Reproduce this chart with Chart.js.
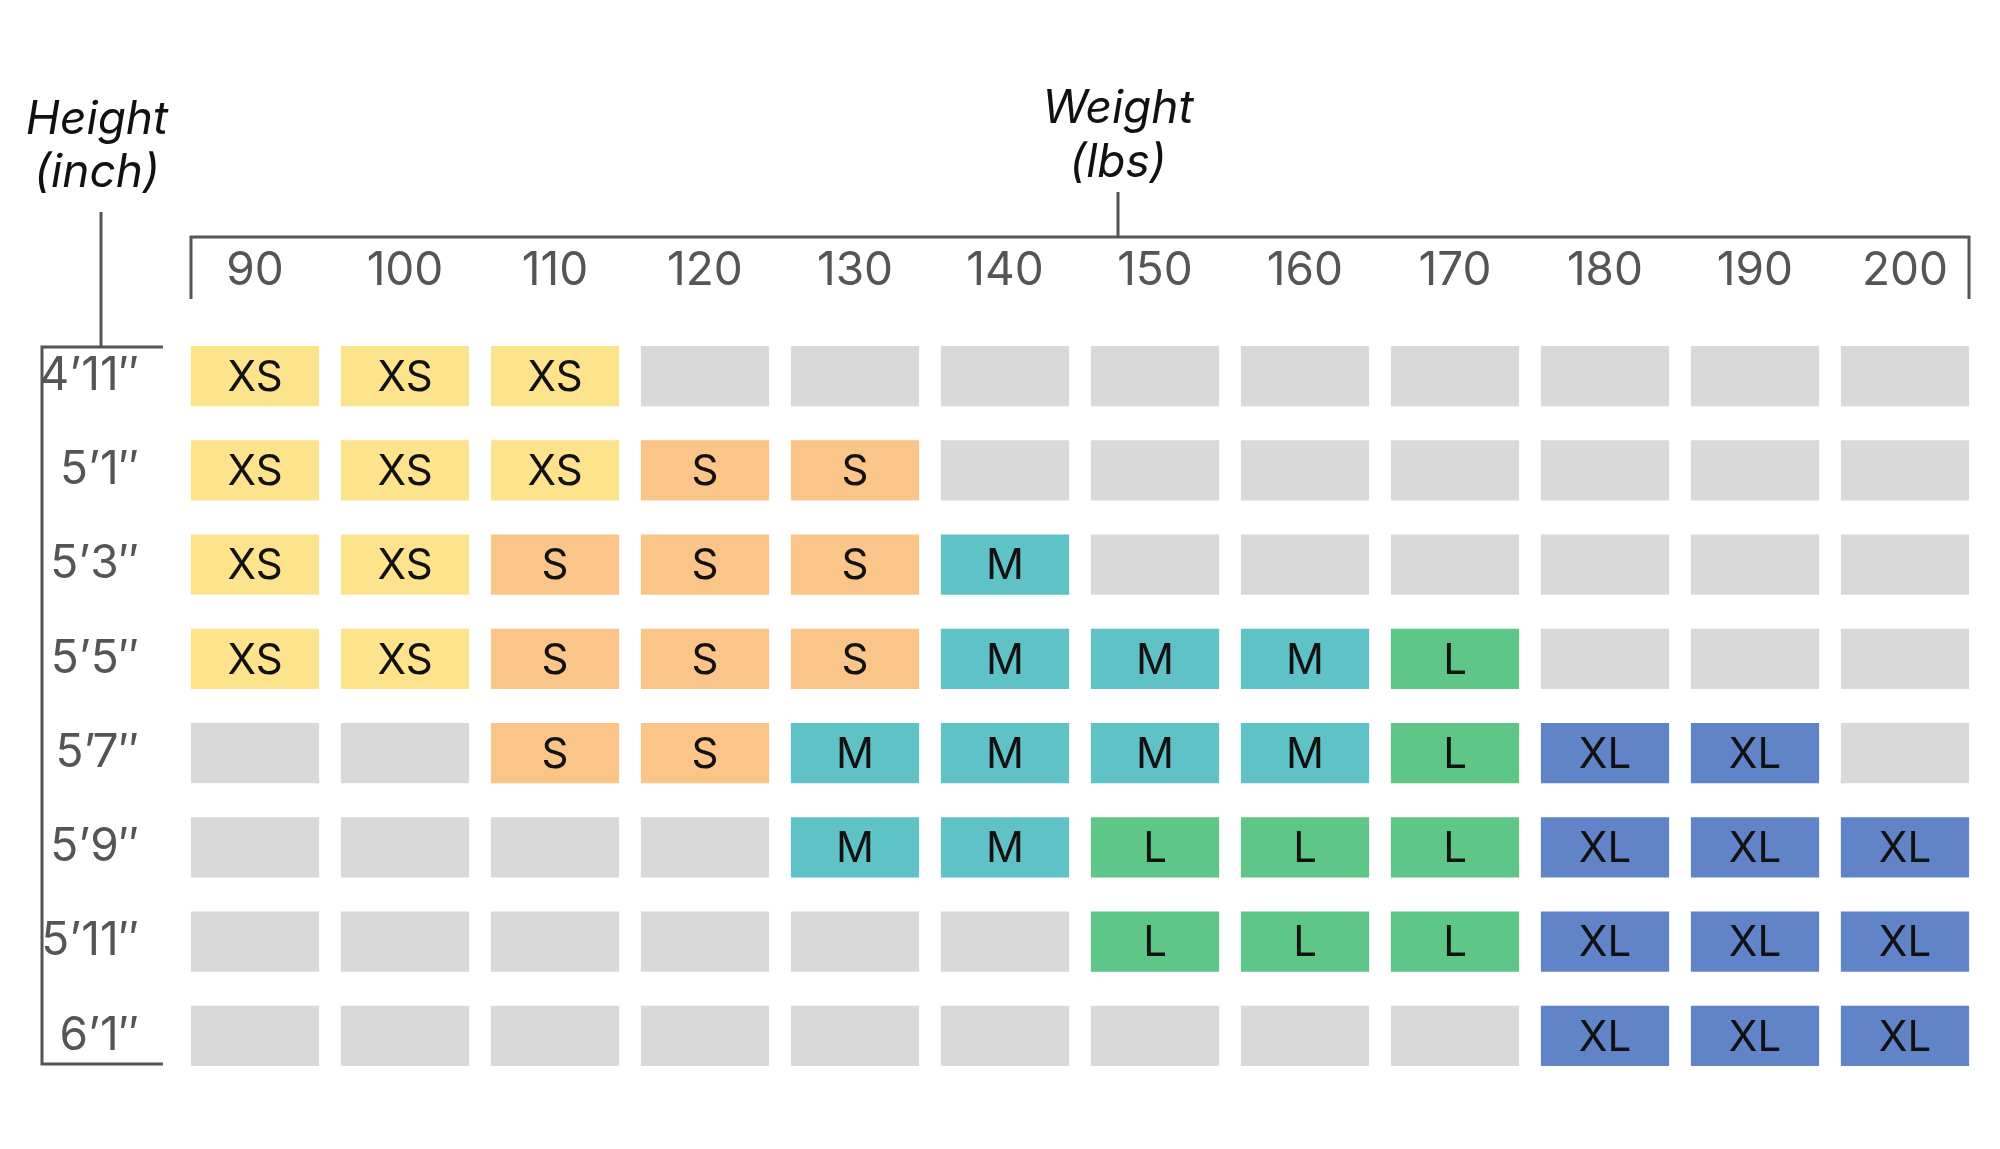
<!DOCTYPE html>
<html><head><meta charset="utf-8">
<script src="https://cdn.jsdelivr.net/npm/chart.js@4"></script>
<style>html,body{margin:0;padding:0;background:#fff}#wrap{width:2000px;height:1149px}</style>
</head><body><div id="wrap"><canvas id="c"></canvas></div>
<script>
const weights = ['90','100','110','120','130','140','150','160','170','180','190','200'];
const heights = ['4\u201911\u2033','5\u20191\u2033','5\u20193\u2033','5\u20195\u2033','5\u20197\u2033','5\u20199\u2033','5\u201911\u2033','6\u20191\u2033'];
const row0 = ['XS','XS','XS','','','','','','','','',''];
const row1 = ['XS','XS','XS','S','S','','','','','','',''];
const row2 = ['XS','XS','S','S','S','M','','','','','',''];
const row3 = ['XS','XS','S','S','S','M','M','M','L','','',''];
const row4 = ['','','S','S','M','M','M','M','L','XL','XL',''];
const row5 = ['','','','','M','M','L','L','L','XL','XL','XL'];
const row6 = ['','','','','','','L','L','L','XL','XL','XL'];
const row7 = ['','','','','','','','','','XL','XL','XL'];
const sizeRows = [row0,row1,row2,row3,row4,row5,row6,row7];
const colors = {XS:'#FDE38C',S:'#FBC58A',M:'#5FC2C6',L:'#5EC687',XL:'#6183C8','':'#D9D9D9'};
const FONT = 'Inter, "Open Sans", sans-serif';

const datasets = sizeRows.map((row,r)=>({
  label: heights[r],
  data: row.map(()=>[r-0.32, r+0.32]),
  sizes: row,
  backgroundColor: row.map(s=>colors[s]),
  borderWidth: 0,
  borderSkipped: false,
  grouped: false,
  barPercentage: 0.855,
  categoryPercentage: 1
}));

const deco = {
  id:'deco',
  afterDatasetsDraw(chart){
    const ctx = chart.ctx;
    ctx.save();
    ctx.fillStyle = '#111';
    ctx.font = '42px ' + FONT;
    ctx.textAlign='center'; ctx.textBaseline='middle';
    chart.data.datasets.forEach((ds,i)=>{
      chart.getDatasetMeta(i).data.forEach((bar,j)=>{
        const s = ds.sizes[j];
        if(s){ const p = bar.getCenterPoint(); ctx.fillText(s, p.x, p.y+2); }
      });
    });
    const xs = chart.scales.x, ca = chart.chartArea;
    const l = xs.getPixelForValue(0) - 64, r = xs.getPixelForValue(11) + 64;
    const mid = (l + r)/2 + 38;
    ctx.strokeStyle='#555'; ctx.lineWidth=3;
    ctx.beginPath();
    ctx.moveTo(l,299); ctx.lineTo(l,237); ctx.lineTo(r,237); ctx.lineTo(r,299);
    ctx.moveTo(mid,237); ctx.lineTo(mid,192);
    ctx.moveTo(163,ca.top+18); ctx.lineTo(42,ca.top+18); ctx.lineTo(42,ca.bottom-19); ctx.lineTo(163,ca.bottom-19);
    ctx.moveTo(101,ca.top+18); ctx.lineTo(101,212);
    ctx.stroke();
    ctx.fillStyle='#111';
    ctx.font = 'italic 46px ' + FONT;
    ctx.fillText('Weight', mid, 109);
    ctx.fillText('(lbs)', mid, 163);
    ctx.fillText('Height', 97, 120);
    ctx.fillText('(inch)', 97, 173);
    ctx.restore();
  }
};

new Chart(document.getElementById('c'), {
  type:'bar',
  data:{labels:weights, datasets},
  options:{
    responsive:true, maintainAspectRatio:false, animation:false,
    layout:{padding:{left:0,right:20,top:0,bottom:66}},
    plugins:{legend:{display:false},tooltip:{enabled:false}},
    scales:{
      x:{type:'category', position:'top', grid:{display:false}, border:{display:false},
         ticks:{color:'#555', font:{size:46, family:FONT}, padding:22},
         afterFit(s){ s.height = 329; }},
      y:{type:'linear', reverse:true, min:-0.5, max:7.5, grid:{display:false}, border:{display:false},
         afterBuildTicks(s){ s.ticks = heights.map((h,i)=>({value:i})); },
         ticks:{color:'#555', font:{size:46, family:FONT}, padding:33, callback:(v)=>heights[v]},
         afterFit(s){ s.width = 180; }}
    }
  },
  plugins:[deco]
});
</script></body></html>
